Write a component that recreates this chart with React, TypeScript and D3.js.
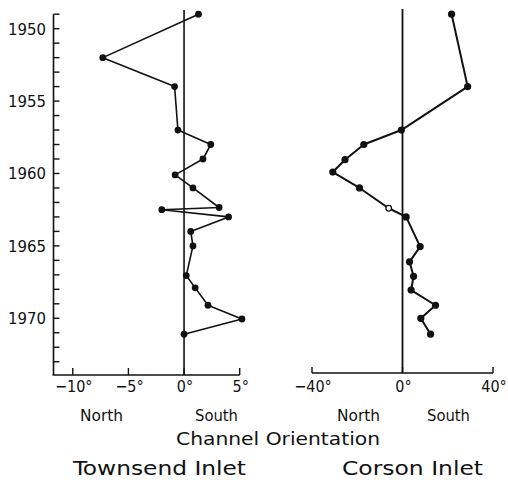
import React from 'react';
import * as d3 from 'd3';

// Townsend Inlet channel orientation (degrees; negative = North, positive = South)
const townsendYears = [1949, 1952, 1954, 1957, 1958, 1959, 1960.1, 1961, 1962.35, 1962.5, 1963, 1964, 1965, 1967.05, 1967.9, 1969.1, 1970.05, 1971.1];
const townsendValues = [1.3, -7.3, -0.85, -0.55, 2.4, 1.7, -0.8, 0.8, 3.15, -2.0, 4.0, 0.6, 0.8, 0.2, 1.0, 2.15, 5.2, 0.0];

// Corson Inlet channel orientation
const corsonYears = [1949, 1954, 1957, 1958, 1959.05, 1959.9, 1961, 1962.4, 1963, 1965.05, 1966.1, 1967.1, 1968.05, 1969.1, 1970, 1971.1];
const corsonValues = [21.7, 28.8, -0.5, -17.1, -25.4, -30.8, -19.0, -6.1, 1.6, 7.8, 3.1, 4.9, 3.8, 14.6, 8.1, 12.4];
const corsonOpenPoint = [false, false, false, false, false, false, false, true, false, false, false, false, false, false, false, false];

const yearLabels = [1950, 1955, 1960, 1965, 1970];
const townsendTicks = [-10, -5, 0, 5];
const townsendTickLabels = ['−10°', '−5°', '0°', '5°'];
const corsonTicks = [-40, 0, 40];
const corsonTickLabels = ['−40°', '0°', '40°'];

const FONT = "'DejaVu Sans Condensed', 'DejaVu Sans', sans-serif";

export default function App() {
  const W = 508, H = 480;
  const y = d3.scaleLinear().domain([1949, 1974]).range([14.2, 376.2]);
  const xL = d3.scaleLinear().domain([-12, 5]).range([50.5, 239.7]);
  const xR = d3.scaleLinear().domain([-40, 40]).range([312, 493]);
  const axisL = 375;
  const axisR = 373;
  const yAxisX = 53.5;

  const lineL = d3.line<number>().x((d) => xL(d)).y((_, i) => y(townsendYears[i]));
  const lineR = d3.line<number>().x((d) => xR(d)).y((_, i) => y(corsonYears[i]));

  const minorYears = d3.range(1949, 1974);

  return (
    <svg width={W} height={H} style={{ position: 'absolute', left: 0, top: 0, background: '#fff' }}
      fontFamily={FONT}>
      <rect x={0} y={0} width={W} height={H} fill="#fff" />
      {/* Left y axis */}
      <line x1={yAxisX} x2={yAxisX} y1={y(1949)} y2={axisL} stroke="#111" strokeWidth={1.6} />
      {minorYears.map((yr) => (
        <line key={yr} x1={yAxisX} x2={yAxisX + 6} y1={y(yr)} y2={y(yr)} stroke="#111" strokeWidth={1.4} />
      ))}
      {yearLabels.map((yr) => (
        <text key={yr} x={46} y={y(yr) + 6} textAnchor="end" fontSize={16} fill="#111"
          textLength={38} lengthAdjust="spacingAndGlyphs">{yr}</text>
      ))}

      {/* Left x axis */}
      <line x1={yAxisX - 1} x2={xL(5)} y1={axisL} y2={axisL} stroke="#111" strokeWidth={1.6} />
      {townsendTicks.map((t) => (
        <line key={t} x1={xL(t)} x2={xL(t)} y1={axisL} y2={axisL - 7} stroke="#111" strokeWidth={1.4} />
      ))}
      {townsendTicks.map((t, i) => (
        <text key={t} x={xL(t) + 1} y={392} textAnchor="middle" fontSize={16} fill="#111">{townsendTickLabels[i]}</text>
      ))}
      {/* Left zero line */}
      <line x1={xL(0)} x2={xL(0)} y1={10} y2={axisL} stroke="#111" strokeWidth={1.6} />
      {/* Left data */}
      <path d={lineL(townsendValues) ?? ''} fill="none" stroke="#111" strokeWidth={1.6} strokeLinejoin="round" />
      {townsendValues.map((v, i) => (
        <circle key={i} cx={xL(v)} cy={y(townsendYears[i])} r={3.4} fill="#111" />
      ))}

      {/* Right x axis */}
      <line x1={xR(-40)} x2={xR(40)} y1={axisR} y2={axisR} stroke="#111" strokeWidth={1.6} />
      {corsonTicks.map((t) => (
        <line key={t} x1={xR(t)} x2={xR(t)} y1={axisR} y2={axisR - 6} stroke="#111" strokeWidth={1.4} />
      ))}
      {corsonTicks.map((t, i) => (
        <text key={t} x={xR(t) + 1} y={392} textAnchor="middle" fontSize={16} fill="#111">{corsonTickLabels[i]}</text>
      ))}
      {/* Right zero line */}
      <line x1={xR(0)} x2={xR(0)} y1={9} y2={axisR} stroke="#111" strokeWidth={1.8} />
      {/* Right data */}
      <path d={lineR(corsonValues) ?? ''} fill="none" stroke="#111" strokeWidth={2} strokeLinejoin="round" />
      {corsonValues.map((v, i) => (
        <circle key={i} cx={xR(v)} cy={y(corsonYears[i])} r={corsonOpenPoint[i] ? 2.8 : 3.6}
          fill={corsonOpenPoint[i] ? '#fff' : '#111'} stroke="#111" strokeWidth={corsonOpenPoint[i] ? 1.3 : 0} />
      ))}

      {/* Direction labels */}
      <text x={80} y={421} fontSize={16} fill="#111" textLength={43} lengthAdjust="spacingAndGlyphs">North</text>
      <text x={195} y={421} fontSize={16} fill="#111" textLength={43} lengthAdjust="spacingAndGlyphs">South</text>
      <text x={337} y={421} fontSize={16} fill="#111" textLength={43} lengthAdjust="spacingAndGlyphs">North</text>
      <text x={427} y={421} fontSize={16} fill="#111" textLength={43} lengthAdjust="spacingAndGlyphs">South</text>

      <text x={176} y={445} fontSize={18} fill="#111" textLength={204} lengthAdjust="spacingAndGlyphs">Channel Orientation</text>
      <text x={73} y={475} fontSize={20} fill="#111" textLength={173} lengthAdjust="spacingAndGlyphs">Townsend Inlet</text>
      <text x={342} y={475} fontSize={20} fill="#111" textLength={141} lengthAdjust="spacingAndGlyphs">Corson Inlet</text>
    </svg>
  );
}
